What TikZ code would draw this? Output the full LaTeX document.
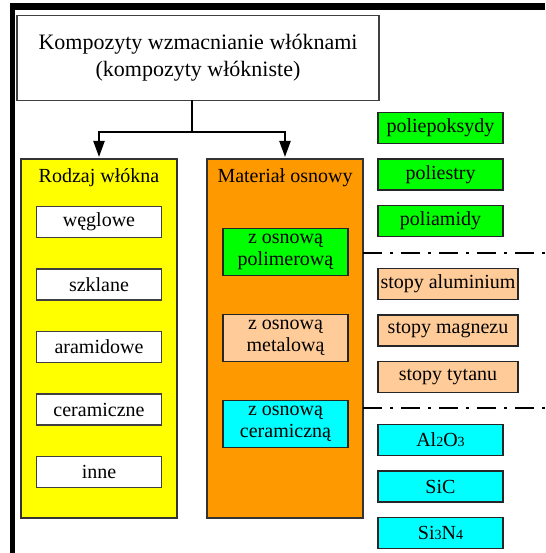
\documentclass[tikz,border=0pt]{standalone}
\usepackage{fontspec}
\setmainfont{Liberation Serif}
\usepackage{tikz}
\usetikzlibrary{arrows.meta,positioning}
\definecolor{fibreyellow}{RGB}{255,255,0}
\definecolor{matorange}{RGB}{255,153,0}
\definecolor{polygreen}{RGB}{0,255,0}
\definecolor{metalpeach}{RGB}{255,204,153}
\definecolor{ceramcyan}{RGB}{0,255,255}

\begin{document}
\begin{tikzpicture}[
    x=1pt, y=1pt, >={Triangle[length=16pt,width=11pt]},
    headbox/.style={rectangle, draw=black!75, fill=white, line width=1.2pt, outer sep=0pt,
                    minimum width=362pt, minimum height=85pt, align=center,
                    font=\fontsize{22}{27}\selectfont},
    column/.style={rectangle, draw=black!80, line width=1.2pt, outer sep=0pt,
                   minimum width=156pt, minimum height=359pt},
    coltitle/.style={font=\fontsize{20}{24}\selectfont, inner sep=0pt},
    fibre/.style={rectangle, draw=black!75, fill=white, line width=1.1pt, outer sep=0pt,
                  minimum width=125pt, minimum height=31pt, inner sep=1pt,
                  font=\fontsize{20}{24}\selectfont},
    matbox/.style={rectangle, draw=black!85, line width=1.1pt, outer sep=0pt,
                   minimum width=125pt, minimum height=47pt, inner sep=1pt, align=center,
                   font=\fontsize{20}{22}\selectfont},
    entry/.style={rectangle, draw=black!85, line width=1.1pt, outer sep=0pt,
                  minimum width=125pt, minimum height=31pt, inner sep=1pt,
                  font=\fontsize{20}{24}\selectfont},
    arr/.style={->, line width=2.2pt, shorten >=2pt},
    sep/.style={line width=2pt, dash pattern=on 19pt off 8pt on 3pt off 8pt}
  ]
    \useasboundingbox (0,0) rectangle (545,-553);

    %--- Frame (top and left edges) ---
    \draw[line width=6.5pt] (10,-6.7) -- (545,-6.7);
    \draw[line width=5pt] (12.5,-3.5) -- (12.5,-553);

    %--- Title ---
    \node[headbox] (title) at (198,-58)
      {Kompozyty wzmacnianie włóknami\\(kompozyty włókniste)};

    %--- Two columns ---
    \node[column, fill=fibreyellow] (fib) at (99,-338.5) {};
    \node[column, fill=matorange]   (mat) at (285,-338.5) {};
    \node[coltitle] (fibt) at (99,-178)  {Rodzaj włókna};
    \node[coltitle] (matt) at (285,-178) {Materiał osnowy};

    %--- Fibre kinds ---
    \node[fibre]                   (weg) at (99,-222) {węglowe};
    \node[fibre, below=31.5pt of weg] (szk) {szklane};
    \node[fibre, below=31.5pt of szk] (ara) {aramidowe};
    \node[fibre, below=31.5pt of ara] (cer) {ceramiczne};
    \node[fibre, below=31.5pt of cer] (inn) {inne};

    %--- Matrix kinds ---
    \node[matbox, fill=polygreen]  (pol) at (285.5,-252) {z osnową\\polimerową};
    \node[matbox, fill=metalpeach, below=39pt of pol] (met) {z osnową\\metalową};
    \node[matbox, fill=ceramcyan,  below=39pt of met] (cmx) {z osnową\\ceramiczną};

    %--- Right column ---
    \node[entry, fill=polygreen] (epo) at (440.5,-128) {poliepoksydy};
    \node[entry, fill=polygreen, below=15.5pt of epo] (pes) {poliestry};
    \node[entry, fill=polygreen, below=15.5pt of pes] (pam) {poliamidy};

    \node[entry, fill=metalpeach, minimum width=140pt] (alu) at (448,-284) {stopy aluminium};
    \node[entry, fill=metalpeach, minimum width=140pt, below=15.5pt of alu] (mag) {stopy magnezu};
    \node[entry, fill=metalpeach, minimum width=140pt, below=15.5pt of mag] (tyt) {stopy tytanu};

    \node[entry, fill=ceramcyan] (alox) at (440.5,-440)
      {Al{\fontsize{14}{14}\selectfont 2}O{\fontsize{14}{14}\selectfont 3}};
    \node[entry, fill=ceramcyan, below=15.5pt of alox] (sic) {SiC};
    \node[entry, fill=ceramcyan, below=15.5pt of sic]  (sin)
      {Si{\fontsize{14}{14}\selectfont 3}N{\fontsize{14}{14}\selectfont 4}};

    %--- Arrows from title ---
    \coordinate (split) at (192,-132);
    \draw[line width=2.2pt] (title.south -| split) -- (split);
    \draw[arr] (split) -| (fib.north);
    \draw[arr] (split) -| (mat.north);

    %--- Dash-dot separators ---
    \coordinate (cutA) at (545,-253);
    \coordinate (cutB) at (545,-408);
    \draw[sep] (mat.east |- cutA) -- (cutA);
    \draw[sep] (mat.east |- cutB) -- (cutB);
  \end{tikzpicture}
\end{document}
